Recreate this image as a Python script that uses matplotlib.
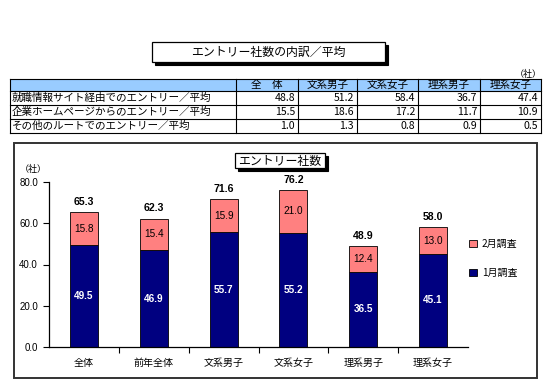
import matplotlib
matplotlib.use("Agg")
import matplotlib.pyplot as plt
from matplotlib.patches import Rectangle, Patch

plt.rcParams["font.family"] = ["Noto Sans CJK JP", "DejaVu Sans"]

# table data
row_labels = [
    "就職情報サイト経由でのエントリー／平均",
    "企業ホームページからのエントリー／平均",
    "その他のルートでのエントリー／平均",
]
col_labels = ["全　体", "文系男子", "文系女子", "理系男子", "理系女子"]
site_vals = [48.8, 51.2, 58.4, 36.7, 47.4]
home_vals = [15.5, 18.6, 17.2, 11.7, 10.9]
other_vals = [1.0, 1.3, 0.8, 0.9, 0.5]

# bar chart data
categories = ["全体", "前年全体", "文系男子", "文系女子", "理系男子", "理系女子"]
jan_vals = [49.5, 46.9, 55.7, 55.2, 36.5, 45.1]
feb_vals = [15.8, 15.4, 15.9, 21.0, 12.4, 13.0]
total_vals = [65.3, 62.3, 71.6, 76.2, 48.9, 58.0]

NAVY = "#000080"
PINK = "#ff8080"
num_font = ["Liberation Sans", "Noto Sans CJK JP"]

W, H = 549, 385
fig = plt.figure(figsize=(W / 100, H / 100), dpi=100)

# overlay in pixel coordinates for table, frames, titles
ov = fig.add_axes([0, 0, 1, 1], zorder=0)
ov.set_xlim(0, W)
ov.set_ylim(H, 0)
ov.axis("off")


def title_box(x0, y0, x1, y1, text, size, shadow=3):
    ov.add_patch(Rectangle((x0 + shadow, y0 + shadow), x1 - x0, y1 - y0,
                           facecolor="black", edgecolor="black", lw=0.8))
    ov.add_patch(Rectangle((x0, y0), x1 - x0, y1 - y0,
                           facecolor="white", edgecolor="black", lw=0.9))
    ov.text((x0 + x1) / 2, (y0 + y1) / 2 + 0.5, text, ha="center", va="center",
            fontsize=size)


title_box(152, 42, 385, 62, "エントリー社数の内訳／平均", 8.6)

# table
xs = [10, 236, 298, 357, 418, 480, 541]
ys = [79, 91, 105, 119, 133]

ov.text(528, 74, "（社）", ha="center", va="center", fontsize=6.5)
ov.add_patch(Rectangle((xs[0], ys[0]), xs[-1] - xs[0], ys[1] - ys[0],
                       facecolor="#99ccff", edgecolor="none"))
for y in ys:
    ov.plot([xs[0], xs[-1]], [y, y], color="black", lw=0.8)
for x in xs:
    ov.plot([x, x], [ys[0], ys[-1]], color="black", lw=0.8)

for j, lab in enumerate(col_labels):
    ov.text((xs[j + 1] + xs[j + 2]) / 2, (ys[0] + ys[1]) / 2, lab,
            ha="center", va="center", fontsize=7.6)

for i, (lab, vals) in enumerate(zip(row_labels, [site_vals, home_vals, other_vals])):
    yc = (ys[i + 1] + ys[i + 2]) / 2
    ov.text(xs[0] + 2, yc, lab, ha="left", va="center", fontsize=7.6)
    for j, v in enumerate(vals):
        ov.text(xs[j + 2] - 3, yc, f"{v:.1f}", ha="right", va="center",
                fontsize=7.6)

# chart frame
ov.add_patch(Rectangle((14, 143), 523, 235, facecolor="none",
                       edgecolor="#333333", lw=1.4))
title_box(235, 153, 325, 168, "エントリー社数", 8.6, shadow=2.5)
ov.text(33, 169, "（社）", ha="center", va="center", fontsize=6.5)

# bar chart
ax = fig.add_axes([49 / W, 1 - 347 / H, 419 / W, 165 / H], zorder=1)
ax.patch.set_alpha(0)
x = range(len(categories))
ax.bar(x, jan_vals, width=0.4, color=NAVY, edgecolor="black", lw=0.6,
       label="1月調査")
ax.bar(x, feb_vals, width=0.4, bottom=jan_vals, color=PINK, edgecolor="black",
       lw=0.6, label="2月調査")

for i in x:
    ax.text(i, jan_vals[i] / 2, f"{jan_vals[i]:.1f}", ha="center", va="center",
            color="white", fontsize=7.2, fontweight="bold", family=num_font)
    ax.text(i, jan_vals[i] + feb_vals[i] / 2, f"{feb_vals[i]:.1f}",
            ha="center", va="center", color="black", fontsize=7.2,
            family=num_font)
    ax.text(i, jan_vals[i] + feb_vals[i] + 2.5, f"{total_vals[i]:.1f}",
            ha="center", va="bottom", color="black", fontsize=7.6,
            fontweight="bold", family=num_font)

ax.set_xlim(-0.5, len(categories) - 0.5)
ax.set_ylim(0, 80)
ax.set_yticks([0, 20, 40, 60, 80])
ax.set_yticklabels([f"{v:.1f}" for v in [0, 20, 40, 60, 80]],
                   family=num_font, fontsize=7)
ax.set_xticks(list(x))
ax.set_xticklabels(categories, fontsize=7.2)
ax.set_xticks([i + 0.5 for i in range(len(categories) - 1)], minor=True)
ax.tick_params(axis="x", which="major", length=0, pad=8)
ax.tick_params(axis="x", which="minor", length=4, width=0.8, direction="out")
ax.tick_params(axis="y", length=4, width=0.8, pad=4)
for s in ["top", "right"]:
    ax.spines[s].set_visible(False)
for s in ["left", "bottom"]:
    ax.spines[s].set_linewidth(0.9)

handles = [Patch(facecolor=PINK, edgecolor="black", lw=0.6, label="2月調査"),
           Patch(facecolor=NAVY, edgecolor="black", lw=0.6, label="1月調査")]
fig.legend(handles=handles, loc="upper left", bbox_to_anchor=(469 / W, 1 - 239 / H),
           frameon=False, fontsize=7.2, handlelength=0.8, handleheight=0.8,
           handletextpad=0.5, labelspacing=1.9, borderpad=0, borderaxespad=0)

fig.savefig("out.png", dpi=100, facecolor="white")
